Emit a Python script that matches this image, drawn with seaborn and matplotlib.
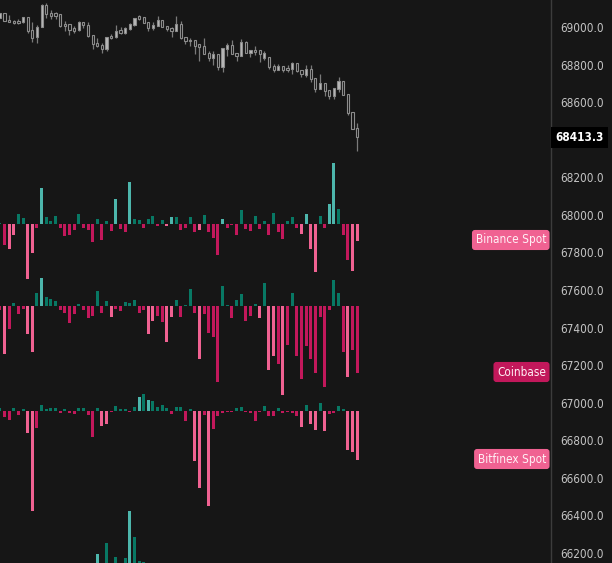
import numpy as np
import pandas as pd
import matplotlib
matplotlib.use('Agg')
import matplotlib.pyplot as plt
import seaborn as sns

BG = '#161616'

# ---- price candles (one per bar slot) ----
opens = [69048, 69075, 69037, 69032, 69032, 69027, 69053, 68984, 68947, 69000,
         69117, 69075, 69075, 69069, 69016, 69016, 68995, 68984, 69027, 69011,
         68957, 68915, 68904, 68883, 68952, 68947, 68984, 68968, 68989, 69011,
         69059, 69053, 69027, 68995, 69005, 69037, 69005, 68995, 68979, 69016,
         68947, 68931, 68931, 68910, 68899, 68862, 68835, 68856, 68787, 68883,
         68904, 68862, 68846, 68920, 68862, 68878, 68878, 68835, 68840, 68792,
         68771, 68792, 68782, 68776, 68808, 68771, 68745, 68776, 68728, 68670,
         68702, 68665, 68633, 68670, 68712, 68643, 68547, 68462]
highs = [69075, 69075, 69064, 69037, 69043, 69053, 69053, 69027, 69011, 69122,
         69128, 69091, 69080, 69069, 69032, 69016, 69005, 69032, 69027, 69027,
         68957, 68941, 68915, 68947, 68963, 69011, 69000, 69000, 69021, 69048,
         69064, 69053, 69027, 69027, 69059, 69037, 69005, 69000, 69059, 69032,
         68947, 68941, 68931, 68910, 68941, 68872, 68872, 68856, 68888, 68915,
         68931, 68862, 68936, 68925, 68878, 68899, 68878, 68872, 68840, 68803,
         68803, 68792, 68798, 68814, 68808, 68771, 68798, 68798, 68728, 68750,
         68702, 68665, 68675, 68734, 68712, 68643, 68547, 68489]
lows = [69048, 69032, 69025, 69016, 69016, 69021, 68968, 68920, 68915, 69000,
        69048, 69043, 69043, 69000, 68979, 68957, 68968, 68979, 68995, 68947,
        68883, 68894, 68862, 68872, 68936, 68941, 68963, 68963, 68984, 69005,
        69037, 69021, 68979, 68984, 69005, 69000, 68979, 68947, 68979, 68936,
        68910, 68899, 68856, 68819, 68856, 68819, 68798, 68771, 68760, 68846,
        68856, 68819, 68846, 68862, 68840, 68851, 68814, 68824, 68776, 68760,
        68771, 68760, 68760, 68750, 68760, 68734, 68734, 68707, 68654, 68670,
        68633, 68617, 68617, 68654, 68638, 68532, 68457, 68340]
closes = [69075, 69032, 69027, 69021, 69021, 69053, 68979, 68941, 69000, 69117,
          69069, 69059, 69059, 69005, 69005, 68984, 68979, 69027, 69011, 68952,
          68910, 68899, 68883, 68947, 68941, 68979, 68968, 68995, 69016, 69048,
          69043, 69021, 68995, 69011, 69037, 69000, 68989, 68979, 69016, 68941,
          68925, 68925, 68899, 68894, 68856, 68835, 68856, 68787, 68888, 68904,
          68856, 68846, 68920, 68862, 68878, 68867, 68856, 68862, 68787, 68771,
          68792, 68771, 68771, 68808, 68766, 68750, 68776, 68723, 68670, 68702,
          68659, 68633, 68675, 68712, 68638, 68542, 68457, 68413.3]

# ---- exchange delta bars ----
binance_delta = [1, -21, -25, -11, 10, 6, -55, -29, -4, 36,
                 7, 3, 8, -4, -12, -11, -6, 10, -4, -6,
                 -18, 5, -16, 3, -7, 25, -5, -8, 42, 5,
                 4, -4, 5, 8, -2, 4, -2, 7, 7, -6,
                 -4, 7, -8, -6, 9, -8, -14, -31, 5, -4,
                 -1, -11, 14, -5, -7, 8, -5, 3, -11, 11,
                 -8, -15, 3, 7, -4, -10, 10, -25, -48, 8,
                 -4, 20, 61, 15, -11, -36, -47, -17]
binance_shade = ['dt', 'dp', 'lp', 'lp', 'dt', 'dt', 'lp', 'lp', 'dp', 'lt',
                 'dt', 'dt', 'dt', 'dp', 'dp', 'dp', 'dp', 'dt', 'dp', 'dp',
                 'dp', 'dt', 'dp', 'dt', 'dp', 'lt', 'dp', 'dp', 'lt', 'dt',
                 'dt', 'dp', 'dt', 'dt', 'dp', 'dt', 'lp', 'lt', 'dt', 'dp',
                 'dp', 'dt', 'dp', 'lp', 'dt', 'dp', 'dp', 'dp', 'lt', 'dp',
                 'dp', 'dp', 'dt', 'dp', 'dp', 'dt', 'dp', 'dt', 'dp', 'dt',
                 'dp', 'dp', 'dt', 'dt', 'dp', 'lp', 'lt', 'lp', 'lp', 'dt',
                 'dp', 'lt', 'lt', 'dt', 'dp', 'dp', 'lp', 'lp']

coinbase_delta = [-4, -48, -23, 3, -8, -3, -28, -46, 13, 28,
                  9, 7, 5, -4, -7, -17, -8, 2, -4, -12,
                  -10, 15, -7, 5, -11, -3, -5, 4, 3, 6,
                  -7, -4, -28, -15, -10, -16, -36, -11, 6, -11,
                  1, 17, -7, -53, -8, -27, -31, -76, 20, 1,
                  -12, 6, 12, -15, -10, 2, -12, 23, -64, -50,
                  -58, -89, -39, 13, -50, -73, -40, -53, -67, -11,
                  -81, -4, 26, 13, -46, -71, -44, -67]
coinbase_shade = ['dp', 'lp', 'dp', 'dt', 'dp', 'dp', 'lp', 'lp', 'dt', 'lt',
                  'dt', 'dt', 'dt', 'dp', 'dp', 'dp', 'dp', 'dt', 'dp', 'dp',
                  'dp', 'dt', 'dp', 'dt', 'lp', 'dp', 'dp', 'dt', 'dt', 'dt',
                  'dp', 'dp', 'lp', 'lp', 'dp', 'dp', 'lp', 'lp', 'dt', 'dp',
                  'dt', 'dt', 'dp', 'lp', 'dp', 'dp', 'dp', 'dp', 'dt', 'dt',
                  'dp', 'dt', 'dt', 'dp', 'dp', 'dt', 'lp', 'dt', 'lp', 'lp',
                  'dp', 'lp', 'dp', 'dt', 'dp', 'dp', 'dp', 'dp', 'dp', 'dp',
                  'dp', 'dp', 'dt', 'dt', 'dp', 'lp', 'dp', 'dp']

bitfinex_delta = [3, -6, -9, 3, -4, 2, -22, -100, -17, 6,
                  2, 3, 3, -2, 2, -2, -3, 3, 3, -4,
                  -26, 3, -15, -13, -1, 5, 2, 2, -1, 4,
                  14, 17, 11, 10, 4, 6, 3, -3, 4, 4,
                  -10, 2, -50, -77, -4, -95, -18, -5, -2, -1,
                  -1, 3, 4, -1, -2, -10, -1, 5, -5, -5,
                  3, -2, -1, -2, -5, -16, 6, -13, -19, 8,
                  -20, -3, -2, 5, 2, -39, -41, -49]
bitfinex_shade = ['dt', 'dp', 'dp', 'dt', 'dp', 'dt', 'lp', 'lp', 'dp', 'dt',
                  'dt', 'dt', 'dt', 'dp', 'dt', 'dp', 'dp', 'dt', 'dt', 'dp',
                  'dp', 'dt', 'lp', 'lp', 'dp', 'dt', 'dt', 'dt', 'dp', 'dt',
                  'lt', 'dt', 'lt', 'dt', 'dt', 'dt', 'dt', 'dp', 'dt', 'dt',
                  'dp', 'dt', 'lp', 'lp', 'dp', 'lp', 'dp', 'dp', 'dp', 'dp',
                  'dp', 'dt', 'dt', 'dp', 'dp', 'dp', 'dp', 'dt', 'dp', 'dp',
                  'dt', 'dp', 'dp', 'dp', 'dp', 'lp', 'dt', 'lp', 'lp', 'dt',
                  'lp', 'dp', 'dp', 'dt', 'dt', 'lp', 'lp', 'lp']

# fourth pane, mostly below the visible area
fourth_delta = [0] * 78
fourth_shade = ['dt'] * 78
for k, v, s in [(21, 46, 'lt'), (23, 57, 'dt'), (25, 43, 'dt'), (27, 42, 'dt'),
                (28, 89, 'lt'), (29, 63, 'dt'), (30, 39, 'dt'), (31, 38, 'dt')]:
    fourth_delta[k] = v
    fourth_shade[k] = s

shade_colors = {'dt': '#087864', 'lt': '#4db6ac', 'dp': '#c2185b', 'lp': '#f06292'}

price_ticks = [66200, 66400, 66600, 66800, 67000, 67200, 67400, 67600,
               67800, 68000, 68200, 68600, 68800, 69000]

# ---- figure ----
W, H = 612, 563
plt.rcParams['font.family'] = ['DejaVu Sans']
plt.rcParams['font.stretch'] = 'condensed'
fig = plt.figure(figsize=(W / 100, H / 100), dpi=100, facecolor=BG)
rect = [0, 0, 551 / W, 1]
n = len(opens)
x = np.arange(n)
xlim = (0.03, 118.78)

ax = fig.add_axes(rect)
ax.set_facecolor(BG)
ax.set_xlim(*xlim)
ax.set_ylim(66147, 69144)

o = np.array(opens, dtype=float)
c = np.array(closes, dtype=float)
up = c >= o
ax.vlines(x, lows, highs, color='#7a7a7a', lw=0.9, zorder=2)
body_lo = np.minimum(o, c)
body_h = np.maximum(np.abs(c - o), 4)
ax.bar(x[up], body_h[up], bottom=body_lo[up], width=0.48, color='#b9b9b9',
       edgecolor='#8c8c8c', linewidth=0.8, zorder=3)
ax.bar(x[~up], body_h[~up], bottom=body_lo[~up], width=0.48, color=BG,
       edgecolor='#8c8c8c', linewidth=0.8, zorder=3)

ax.yaxis.tick_right()
ax.set_yticks(price_ticks)
ax.set_yticklabels([f'{t:.1f}' for t in price_ticks])
ax.tick_params(axis='y', length=0, pad=7, labelsize=8.5, labelcolor='#c4c4c4')
ax.tick_params(axis='x', bottom=False, labelbottom=False)
for side in ['top', 'left', 'bottom']:
    ax.spines[side].set_visible(False)
ax.spines['right'].set_color('#3c3c3c')
ax.spines['right'].set_linewidth(1)

# last price tag
ax.text(555 / 551, closes[-1], f'{closes[-1]:.1f}', transform=ax.get_yaxis_transform(),
        ha='left', va='center', color='white', fontsize=8.5, fontweight='bold',
        bbox=dict(boxstyle='square,pad=0.35', fc='black', ec='none'), clip_on=False)

# ---- delta panes, each baseline at its own height ----
panes = [(binance_delta, binance_shade, 224),
         (coinbase_delta, coinbase_shade, 306),
         (bitfinex_delta, bitfinex_shade, 411),
         (fourth_delta, fourth_shade, 600)]
for vals, shades, base in panes:
    pax = fig.add_axes(rect)
    pax.patch.set_alpha(0)
    df = pd.DataFrame({'slot': x, 'delta': vals, 'shade': shades})
    sns.barplot(data=df, x='slot', y='delta', hue='shade', palette=shade_colors,
                order=list(x), dodge=False, width=0.65, saturation=1,
                legend=False, ax=pax, linewidth=0)
    pax.set_xlim(*xlim)
    pax.set_ylim(base - H, base)
    pax.set_axis_off()

# exchange name tags
tags = [('Binance Spot', '#f06292', 240), ('Coinbase', '#c2185b', 372),
        ('Bitfinex Spot', '#f06292', 459)]
for name, col, ypix in tags:
    fig.text(546 / W, 1 - ypix / H, name, ha='right', va='center',
             color='#fff0f5', fontsize=8.5,
             bbox=dict(boxstyle='round,pad=0.3,rounding_size=0.25', fc=col, ec='none'))

fig.savefig('out.png', dpi=100, facecolor=BG)
